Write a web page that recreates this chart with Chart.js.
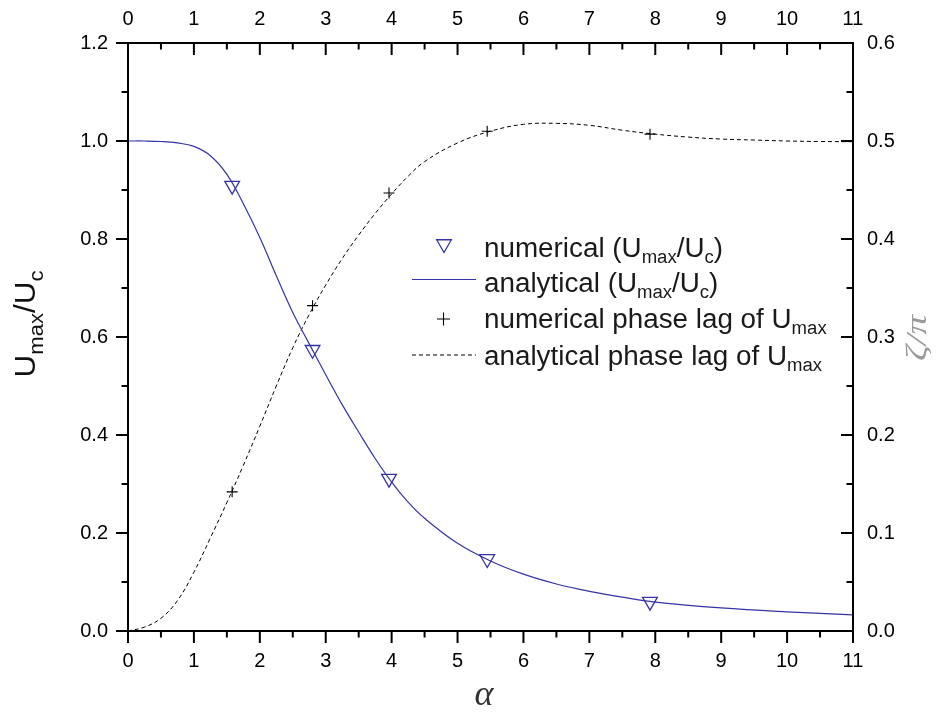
<!DOCTYPE html>
<html><head><meta charset="utf-8">
<script src="https://cdn.jsdelivr.net/npm/chart.js@4.4.1/dist/chart.umd.min.js"></script>
<style>html,body{margin:0;padding:0;background:#fff;}#wrap{width:939px;height:715px;position:relative;}</style>
</head><body><div id="wrap"><canvas id="c" width="939" height="715"></canvas></div>
<script>
// ---- data ----
const alphaNum = [1.58, 2.80, 3.96, 5.45, 7.92];
const ampNum = [0.909, 0.574, 0.311, 0.147, 0.060];
const phaseNum = [0.142, 0.332, 0.447, 0.510, 0.507];

const alphaAmpCurve = [0, 0.25, 0.5, 0.75, 1.0, 1.25, 1.5, 1.75, 2.0, 2.25, 2.5, 2.75, 3.0, 3.25, 3.5, 3.75, 4.0, 4.25, 4.5, 5.0, 5.5, 6.0, 6.5, 7.0, 7.5, 8.0, 9.0, 10.0, 11.0];
const ampCurve = [1.000, 1.000, 0.999, 0.996, 0.989, 0.970, 0.932, 0.872, 0.803, 0.725, 0.650, 0.586, 0.523, 0.462, 0.406, 0.352, 0.304, 0.263, 0.230, 0.179, 0.143, 0.116, 0.096, 0.081, 0.069, 0.059, 0.047, 0.039, 0.033];

const alphaPhaseCurve = [0, 0.25, 0.5, 0.75, 1.0, 1.25, 1.5, 1.75, 2.0, 2.25, 2.5, 2.75, 3.0, 3.25, 3.5, 3.75, 4.0, 4.25, 4.5, 5.0, 5.5, 6.0, 6.5, 7.0, 7.5, 8.0, 8.5, 9.0, 9.5, 10.0, 10.5, 11.0];
const phaseCurve = [0, 0.004, 0.013, 0.031, 0.060, 0.095, 0.131, 0.169, 0.209, 0.250, 0.289, 0.323, 0.353, 0.380, 0.404, 0.426, 0.446, 0.464, 0.479, 0.498, 0.510, 0.517, 0.518, 0.516, 0.511, 0.507, 0.504, 0.502, 0.501, 0.500, 0.4995, 0.4993];

const xMajorTicks = [0,1,2,3,4,5,6,7,8,9,10,11];
const xMinorTicks = [0.5,1.5,2.5,3.5,4.5,5.5,6.5,7.5,8.5,9.5,10.5];
const yLeftMajor = [0,0.2,0.4,0.6,0.8,1.0,1.2];
const yLeftMinor = [0.1,0.3,0.5,0.7,0.9,1.1];
const yRightMajor = [0,0.1,0.2,0.3,0.4,0.5,0.6];
const yRightMinor = [0.05,0.15,0.25,0.35,0.45,0.55];

const legendLabels = [
  [['numerical (U',0],['max',1],['/U',0],['c',1],[')',0]],
  [['analytical (U',0],['max',1],['/U',0],['c',1],[')',0]],
  [['numerical phase lag of U',0],['max',1]],
  [['analytical phase lag of U',0],['max',1]]
];
const leftTitle = [['U',0],['max',1],['/U',0],['c',1]];
const rightTitle = 'ζ/π';
const bottomTitle = 'α';

const BLUE = '#3434a6';
const FONT = "'Liberation Sans', Arial, sans-serif";

function pts(xs, ys){ return xs.map((x,i)=>({x:x, y:ys[i]})); }

function partsWidth(ctx, parts, mainF, subF){
  let w=0;
  for(const [t,s] of parts){ ctx.font = s?subF:mainF; w += ctx.measureText(t).width; }
  return w;
}
function drawParts(ctx, parts, x, y, mainF, subF, dy){
  for(const [t,s] of parts){
    ctx.font = s?subF:mainF;
    ctx.fillText(t, x, s? y+dy : y);
    x += ctx.measureText(t).width;
  }
}

const overlay = {
  id:'overlay',
  afterDraw(chart){
    const ctx = chart.ctx;
    const sx = chart.scales.x, sx2 = chart.scales.x2, sy = chart.scales.y, sy2 = chart.scales.y2;
    const ca = chart.chartArea;
    const L=ca.left, R=ca.right, T=ca.top, B=ca.bottom;
    ctx.save();
    ctx.strokeStyle='#000'; ctx.lineWidth=2; ctx.lineCap='butt';
    ctx.beginPath();
    ctx.moveTo(L-1,B); ctx.lineTo(R+1,B);
    ctx.moveTo(L-1,T); ctx.lineTo(R+1,T);
    ctx.moveTo(L,T); ctx.lineTo(L,B);
    ctx.moveTo(R,T); ctx.lineTo(R,B);
    ctx.stroke();
    const MAJ=12, MIN=6.5;
    ctx.beginPath();
    xMajorTicks.forEach(v=>{const p=sx.getPixelForValue(v); ctx.moveTo(p,B); ctx.lineTo(p,B+MAJ);});
    xMinorTicks.forEach(v=>{const p=sx.getPixelForValue(v); ctx.moveTo(p,B); ctx.lineTo(p,B+MIN);});
    xMajorTicks.forEach(v=>{const p=sx2.getPixelForValue(v); ctx.moveTo(p,T); ctx.lineTo(p,T+MAJ);});
    xMinorTicks.forEach(v=>{const p=sx2.getPixelForValue(v); ctx.moveTo(p,T); ctx.lineTo(p,T+MIN);});
    yLeftMajor.forEach(v=>{const p=sy.getPixelForValue(v); ctx.moveTo(L,p); ctx.lineTo(L-MAJ,p);});
    yLeftMinor.forEach(v=>{const p=sy.getPixelForValue(v); ctx.moveTo(L,p); ctx.lineTo(L-MIN,p);});
    yRightMajor.forEach(v=>{const p=sy2.getPixelForValue(v); ctx.moveTo(R,p); ctx.lineTo(R-MAJ,p);});
    yRightMinor.forEach(v=>{const p=sy2.getPixelForValue(v); ctx.moveTo(R,p); ctx.lineTo(R-MIN,p);});
    ctx.stroke();

    // left title rotated
    ctx.fillStyle='#111';
    ctx.textBaseline='alphabetic'; ctx.textAlign='left';
    const mF = "30px "+FONT, sF = "21px "+FONT;
    const tw = partsWidth(ctx, leftTitle, mF, sF);
    ctx.save();
    ctx.translate(35, 324);
    ctx.rotate(-Math.PI/2);
    ctx.scale(1.05, 1);
    drawParts(ctx, leftTitle, -tw/2, 0, mF, sF, 8);
    ctx.restore();

    // right title
    ctx.save();
    ctx.fillStyle='#9a9a9a';
    ctx.font = "italic 30px 'Liberation Serif', 'DejaVu Serif', serif";
    ctx.translate(918, 338);
    ctx.rotate(-Math.PI/2);
    ctx.scale(1.3, 1);
    ctx.textAlign='center'; ctx.textBaseline='middle';
    ctx.fillText(rightTitle, 0, 0);
    ctx.restore();

    // bottom title
    ctx.save();
    ctx.fillStyle='#333';
    ctx.font = "italic 36px 'Liberation Serif', 'DejaVu Serif', serif";
    ctx.textAlign='center'; ctx.textBaseline='middle';
    ctx.fillText(bottomTitle, 484, 696);
    ctx.restore();

    // legend
    const lmF = "27px "+FONT, lsF = "18px "+FONT;
    const baselines = [256.5, 291.5, 328, 365];
    const symY = [244, 279.5, 319, 355];
    const ds = chart.data.datasets;
    ctx.save(); ctx.strokeStyle=ds[0].borderColor; ctx.fillStyle='rgba(0,0,0,0)'; ctx.lineWidth=ds[0].borderWidth;
    Chart.helpers.drawPoint(ctx, {pointStyle:ds[0].pointStyle, rotation:ds[0].rotation, radius:ds[0].pointRadius, borderWidth:ds[0].borderWidth}, 444, symY[0]);
    ctx.restore();
    ctx.save(); ctx.strokeStyle=ds[1].borderColor; ctx.lineWidth=ds[1].borderWidth;
    ctx.beginPath(); ctx.moveTo(412, symY[1]); ctx.lineTo(476, symY[1]); ctx.stroke(); ctx.restore();
    ctx.save(); ctx.strokeStyle=ds[2].borderColor; ctx.fillStyle='rgba(0,0,0,0)'; ctx.lineWidth=ds[2].borderWidth;
    Chart.helpers.drawPoint(ctx, {pointStyle:'cross', rotation:0, radius:6.5, borderWidth:ds[2].borderWidth}, 443.5, symY[2]);
    ctx.restore();
    ctx.save(); ctx.strokeStyle=ds[3].borderColor; ctx.lineWidth=ds[3].borderWidth; ctx.setLineDash(ds[3].borderDash);
    ctx.beginPath(); ctx.moveTo(412, symY[3]); ctx.lineTo(476, symY[3]); ctx.stroke(); ctx.restore();
    ctx.fillStyle='#1a1a1a'; ctx.textAlign='left'; ctx.textBaseline='alphabetic';
    legendLabels.forEach((parts,i)=>{
      ctx.save(); ctx.translate(484, baselines[i]); ctx.scale(1.03,1);
      drawParts(ctx, parts, 0, 0, lmF, lsF, 6);
      ctx.restore();
    });
    ctx.restore();
  }
};

const tickFont = {family: FONT, size: 20};
function axisCommon(extra){
  return Object.assign({
    type:'linear',
    grid:{display:false, drawTicks:false},
    border:{display:false},
  }, extra);
}

new Chart(document.getElementById('c'), {
  type:'scatter',
  data:{
    datasets:[
      {label:'numerical (Umax/Uc)', data:pts(alphaNum, ampNum), yAxisID:'y', xAxisID:'x', showLine:false,
       pointStyle:'triangle', rotation:180, pointRadius:8.5, borderColor:BLUE, backgroundColor:'rgba(0,0,0,0)', borderWidth:1.3},
      {label:'analytical (Umax/Uc)', data:pts(alphaAmpCurve, ampCurve), yAxisID:'y', xAxisID:'x', showLine:true,
       pointRadius:0, borderColor:BLUE, borderWidth:1.2, tension:0.4, fill:false},
      {label:'numerical phase lag of Umax', data:pts(alphaNum, phaseNum), yAxisID:'y2', xAxisID:'x', showLine:false,
       pointStyle:'cross', pointRadius:5.5, borderColor:'#000', backgroundColor:'#000', borderWidth:1.1},
      {label:'analytical phase lag of Umax', data:pts(alphaPhaseCurve, phaseCurve), yAxisID:'y2', xAxisID:'x', showLine:true,
       pointRadius:0, borderColor:'#000', borderWidth:1, borderDash:[4,3], tension:0.4, fill:false}
    ]
  },
  options:{
    responsive:false, devicePixelRatio:1, animation:false,
    layout:{padding:0},
    plugins:{legend:{display:false}, tooltip:{enabled:false}, title:{display:false}},
    scales:{
      x: axisCommon({position:'bottom', axis:'x', min:0, max:11, afterFit(s){s.height=84;},
          ticks:{stepSize:1, padding:18, font:tickFont, color:'#000', maxRotation:0, autoSkip:false, callback:v=>String(v)}}),
      x2: axisCommon({position:'top', axis:'x', min:0, max:11, afterFit(s){s.height=43;},
          ticks:{stepSize:1, padding:12, font:tickFont, color:'#000', maxRotation:0, autoSkip:false, callback:v=>String(v)}}),
      y: axisCommon({position:'left', axis:'y', min:0, max:1.2, afterFit(s){s.width=128;},
          ticks:{stepSize:0.2, padding:20, font:tickFont, color:'#000', callback:v=>Number(v).toFixed(1)}}),
      y2: axisCommon({position:'right', axis:'y', min:0, max:0.6, afterFit(s){s.width=86;},
          ticks:{stepSize:0.1, padding:14, font:tickFont, color:'#000', callback:v=>Number(v).toFixed(1)}})
    }
  },
  plugins:[overlay]
});
</script>
</body></html>
